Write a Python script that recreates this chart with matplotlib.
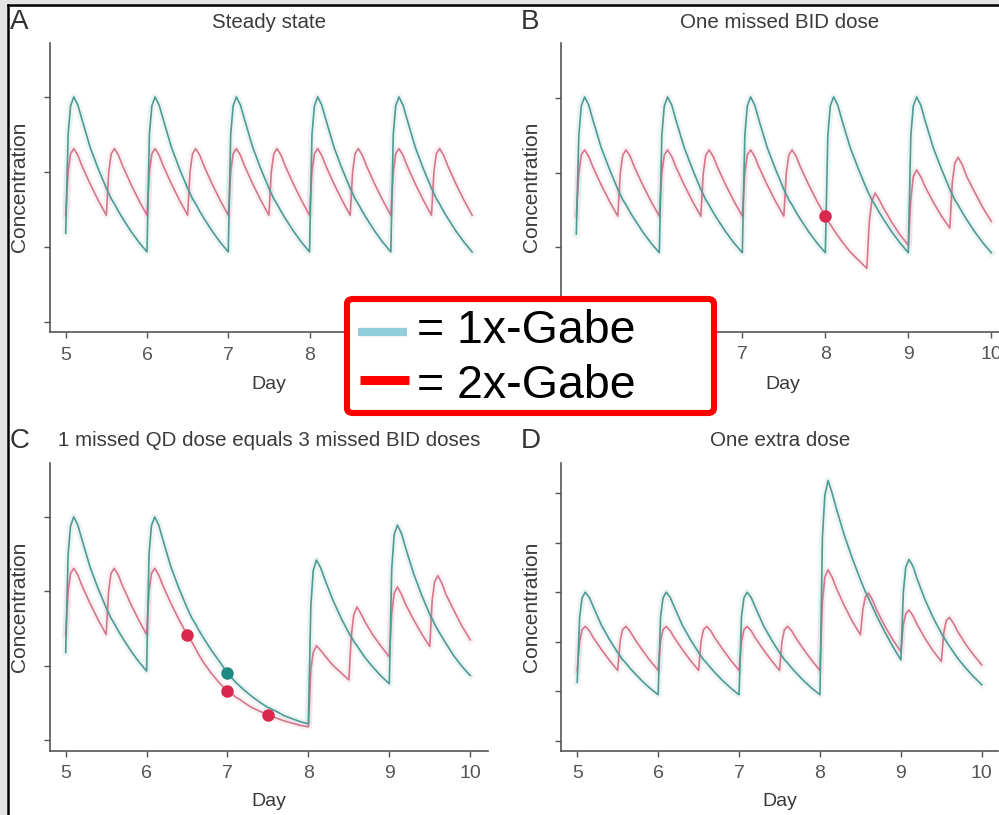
import matplotlib
matplotlib.use("Agg")
import matplotlib.pyplot as plt
from matplotlib.patches import FancyBboxPatch, Rectangle
from matplotlib.lines import Line2D

plt.rcParams['font.family'] = ['Liberation Sans', 'DejaVu Sans']

# ---------------- data ----------------
DAY = [5.0, 5.03, 5.06, 5.1, 5.15, 5.2, 5.3, 5.4, 5.5, 5.53, 5.56, 5.6, 5.65, 5.7, 5.8, 5.9,
       6.0, 6.03, 6.06, 6.1, 6.15, 6.2, 6.3, 6.4, 6.5, 6.53, 6.56, 6.6, 6.65, 6.7, 6.8, 6.9,
       7.0, 7.03, 7.06, 7.1, 7.15, 7.2, 7.3, 7.4, 7.5, 7.53, 7.56, 7.6, 7.65, 7.7, 7.8, 7.9,
       8.0, 8.03, 8.06, 8.1, 8.15, 8.2, 8.3, 8.4, 8.5, 8.53, 8.56, 8.6, 8.65, 8.7, 8.8, 8.9,
       9.0, 9.03, 9.06, 9.1, 9.15, 9.2, 9.3, 9.4, 9.5, 9.53, 9.56, 9.6, 9.65, 9.7, 9.8, 9.9,
       10.0]

A_qd = [1.18, 2.5, 2.88, 3.0, 2.89, 2.70, 2.33, 2.04, 1.78, 1.71, 1.64, 1.57, 1.47, 1.38, 1.21, 1.06,
        0.93, 2.5, 2.88, 3.0, 2.89, 2.70, 2.33, 2.04, 1.78, 1.71, 1.64, 1.57, 1.47, 1.38, 1.21, 1.06,
        0.93, 2.5, 2.88, 3.0, 2.89, 2.70, 2.33, 2.04, 1.78, 1.71, 1.64, 1.57, 1.47, 1.38, 1.21, 1.06,
        0.93, 2.5, 2.88, 3.0, 2.89, 2.70, 2.33, 2.04, 1.78, 1.71, 1.64, 1.57, 1.47, 1.38, 1.21, 1.06,
        0.93, 2.5, 2.88, 3.0, 2.89, 2.70, 2.33, 2.04, 1.78, 1.71, 1.64, 1.57, 1.47, 1.38, 1.21, 1.06,
        0.93]
A_bid = [1.42, 2.0, 2.24, 2.31, 2.22, 2.08, 1.84, 1.62, 1.42, 2.0, 2.24, 2.31, 2.22, 2.08, 1.84, 1.62,
         1.42, 2.0, 2.24, 2.31, 2.22, 2.08, 1.84, 1.62, 1.42, 2.0, 2.24, 2.31, 2.22, 2.08, 1.84, 1.62,
         1.42, 2.0, 2.24, 2.31, 2.22, 2.08, 1.84, 1.62, 1.42, 2.0, 2.24, 2.31, 2.22, 2.08, 1.84, 1.62,
         1.42, 2.0, 2.24, 2.31, 2.22, 2.08, 1.84, 1.62, 1.42, 2.0, 2.24, 2.31, 2.22, 2.08, 1.84, 1.62,
         1.42, 2.0, 2.24, 2.31, 2.22, 2.08, 1.84, 1.62, 1.42, 2.0, 2.24, 2.31, 2.22, 2.08, 1.84, 1.62,
         1.42]

B_qd = [1.18, 2.5, 2.9, 3.02, 2.91, 2.71, 2.34, 2.05, 1.78, 1.71, 1.64, 1.57, 1.47, 1.38, 1.21, 1.06,
        0.93, 2.5, 2.9, 3.02, 2.91, 2.71, 2.34, 2.05, 1.78, 1.71, 1.64, 1.57, 1.47, 1.38, 1.21, 1.06,
        0.93, 2.5, 2.9, 3.02, 2.91, 2.71, 2.34, 2.05, 1.78, 1.71, 1.64, 1.57, 1.47, 1.38, 1.21, 1.06,
        0.93, 2.5, 2.9, 3.02, 2.91, 2.71, 2.34, 2.05, 1.78, 1.71, 1.64, 1.57, 1.47, 1.38, 1.21, 1.06,
        0.93, 2.5, 2.9, 3.02, 2.91, 2.71, 2.34, 2.05, 1.78, 1.71, 1.64, 1.57, 1.47, 1.38, 1.21, 1.06,
        0.93]
B_bid = [1.42, 2.0, 2.24, 2.31, 2.22, 2.08, 1.84, 1.62, 1.42, 2.0, 2.24, 2.31, 2.22, 2.08, 1.84, 1.62,
         1.42, 2.0, 2.24, 2.31, 2.22, 2.08, 1.84, 1.62, 1.42, 2.0, 2.24, 2.31, 2.22, 2.08, 1.84, 1.62,
         1.42, 2.0, 2.24, 2.31, 2.22, 2.08, 1.84, 1.62, 1.42, 2.0, 2.24, 2.31, 2.22, 2.08, 1.84, 1.62,
         1.42, 1.36, 1.31, 1.24, 1.16, 1.08, 0.94, 0.83, 0.72, 1.35, 1.62, 1.73, 1.64, 1.53, 1.34, 1.17,
         1.03, 1.65, 1.95, 2.04, 1.95, 1.82, 1.61, 1.42, 1.26, 1.88, 2.13, 2.21, 2.11, 1.96, 1.74, 1.53,
         1.35]

C_qd = [1.18, 2.5, 2.88, 3.0, 2.89, 2.70, 2.33, 2.04, 1.78, 1.71, 1.64, 1.57, 1.47, 1.38, 1.21, 1.06,
        0.93, 2.5, 2.88, 3.0, 2.89, 2.70, 2.33, 2.04, 1.78, 1.71, 1.64, 1.57, 1.47, 1.38, 1.21, 1.06,
        0.90, 0.86, 0.83, 0.78, 0.73, 0.68, 0.59, 0.51, 0.44, 0.43, 0.41, 0.39, 0.36, 0.33, 0.29, 0.25,
        0.22, 1.8, 2.28, 2.42, 2.32, 2.17, 1.89, 1.65, 1.44, 1.39, 1.33, 1.27, 1.19, 1.11, 0.98, 0.86,
        0.76, 2.3, 2.76, 2.89, 2.78, 2.59, 2.24, 1.95, 1.69, 1.63, 1.56, 1.48, 1.39, 1.30, 1.13, 0.99,
        0.87]
C_bid = [1.42, 2.0, 2.24, 2.31, 2.22, 2.08, 1.84, 1.62, 1.42, 2.0, 2.24, 2.31, 2.22, 2.08, 1.84, 1.62,
         1.42, 2.0, 2.24, 2.31, 2.22, 2.08, 1.84, 1.62, 1.42, 1.37, 1.32, 1.24, 1.14, 1.05, 0.90, 0.77,
         0.66, 0.64, 0.62, 0.58, 0.55, 0.51, 0.44, 0.39, 0.34, 0.33, 0.32, 0.30, 0.28, 0.26, 0.23, 0.20,
         0.18, 0.95, 1.18, 1.27, 1.21, 1.14, 1.01, 0.91, 0.81, 1.4, 1.68, 1.79, 1.70, 1.59, 1.41, 1.26,
         1.12, 1.7, 1.97, 2.06, 1.96, 1.83, 1.62, 1.43, 1.26, 1.88, 2.13, 2.21, 2.11, 1.96, 1.74, 1.53,
         1.35]

D_qd = [1.18, 2.5, 2.88, 3.0, 2.89, 2.70, 2.33, 2.04, 1.78, 1.71, 1.64, 1.57, 1.47, 1.38, 1.21, 1.06,
        0.93, 2.5, 2.88, 3.0, 2.89, 2.70, 2.33, 2.04, 1.78, 1.71, 1.64, 1.57, 1.47, 1.38, 1.21, 1.06,
        0.93, 2.5, 2.88, 3.0, 2.89, 2.70, 2.33, 2.04, 1.78, 1.71, 1.64, 1.57, 1.47, 1.38, 1.21, 1.06,
        0.93, 4.1, 4.95, 5.25, 5.0, 4.7, 4.15, 3.68, 3.25, 3.13, 3.01, 2.88, 2.70, 2.52, 2.2, 1.9,
        1.63, 3.0, 3.5, 3.66, 3.52, 3.27, 2.84, 2.48, 2.17, 2.09, 2.01, 1.91, 1.79, 1.67, 1.47, 1.29,
        1.13]
D_bid = [1.42, 2.0, 2.24, 2.31, 2.22, 2.08, 1.84, 1.62, 1.42, 2.0, 2.24, 2.31, 2.22, 2.08, 1.84, 1.62,
         1.42, 2.0, 2.24, 2.31, 2.22, 2.08, 1.84, 1.62, 1.42, 2.0, 2.24, 2.31, 2.22, 2.08, 1.84, 1.62,
         1.42, 2.0, 2.24, 2.31, 2.22, 2.08, 1.84, 1.62, 1.42, 2.0, 2.24, 2.31, 2.22, 2.08, 1.84, 1.62,
         1.42, 2.8, 3.3, 3.45, 3.30, 3.09, 2.73, 2.41, 2.14, 2.65, 2.9, 2.98, 2.84, 2.64, 2.32, 2.04,
         1.80, 2.35, 2.56, 2.64, 2.52, 2.35, 2.06, 1.81, 1.60, 2.18, 2.42, 2.49, 2.37, 2.21, 1.95, 1.73,
         1.53]

# missed-dose markers
B_miss_bid_x = [8.0]
B_miss_bid_y = [1.42]
C_miss_bid_x = [6.5, 7.0, 7.5]
C_miss_bid_y = [1.42, 0.66, 0.34]
C_miss_qd_x = [7.0]
C_miss_qd_y = [0.90]

X_TICKS = [5, 6, 7, 8, 9, 10]
TITLES = ["Steady state", "One missed BID dose",
          "1 missed QD dose equals 3 missed BID doses", "One extra dose"]
LETTERS = ["A", "B", "C", "D"]
LEGEND_LABELS = ["= 1x-Gabe", "= 2x-Gabe"]

# ---------------- styling ----------------
W, H = 999, 815
TEAL = "#4E9A94"
PINK = "#D6768D"
AXC = "#555555"
TXT = "#3a3a3a"

fig = plt.figure(figsize=(W / 100, H / 100), dpi=100)
fig.patch.set_facecolor("white")


def fx(x):
    return x / W


def fy(y):
    return 1 - y / H


def add_ax(x0, x1, ytop, ybot):
    return fig.add_axes([fx(x0), fy(ybot), (x1 - x0) / W, (ybot - ytop) / H])


panels = [
    # x0, x1, ytop, ybot, ylim, yticks
    (50, 490, 43, 332, (-0.14, 3.72), [0, 1, 2, 3]),
    (560.7, 1009.6, 43.3, 331.7, (-0.13, 3.74), [0, 1, 2, 3]),
    (50, 488, 463.3, 750.7, (-0.14, 3.72), [0, 1, 2, 3]),
    (560.7, 998, 463.3, 750.7, (-0.2, 5.6), [0, 1, 2, 3, 4, 5]),
]
xlims = [(4.807, 10.22), (4.812, 10.22), (4.806, 10.22), (4.796, 10.2)]
series = [(A_qd, A_bid), (B_qd, B_bid), (C_qd, C_bid), (D_qd, D_bid)]

axes = []
for i, (x0, x1, yt, yb, yl, yt_ticks) in enumerate(panels):
    ax = add_ax(x0, x1, yt, yb)
    ax.set_xlim(*xlims[i])
    ax.set_ylim(*yl)
    qd, bid = series[i]
    # soft halo like the blurred original
    ax.plot(DAY, qd, color=TEAL, lw=5, alpha=0.10, solid_joinstyle="round")
    ax.plot(DAY, bid, color=PINK, lw=5, alpha=0.10, solid_joinstyle="round")
    ax.plot(DAY, bid, color=PINK, lw=1.2, solid_joinstyle="round")
    ax.plot(DAY, qd, color=TEAL, lw=1.2, solid_joinstyle="round")
    for s in ["top", "right"]:
        ax.spines[s].set_visible(False)
    for s in ["left", "bottom"]:
        ax.spines[s].set_color(AXC)
        ax.spines[s].set_linewidth(1.2)
    ax.set_xticks(X_TICKS)
    ax.set_xticklabels([str(t) for t in X_TICKS])
    ax.set_yticks(yt_ticks)
    ax.set_yticklabels([])
    ax.tick_params(axis="both", direction="out", length=4.5, width=1.0,
                   color=AXC, labelcolor="#555555", labelsize=14, pad=6)
    ax.patch.set_alpha(0)
    axes.append(ax)

# markers
axes[1].plot(B_miss_bid_x, B_miss_bid_y, "o", color="#D9274E", ms=9, mec="none", zorder=5)
axes[2].plot(C_miss_bid_x, C_miss_bid_y, "o", color="#D9274E", ms=9, mec="none", zorder=5)
axes[2].plot(C_miss_qd_x, C_miss_qd_y, "o", color="#1E8A84", ms=9, mec="none", zorder=5)

# titles, letters, labels
title_pos = [(269, 22), (780, 22), (269, 441), (780, 441)]
letter_pos = [(10, 22), (521, 22), (10, 441), (521, 441)]
day_pos = [(269, 385), (783, 385), (269, 802), (780, 802)]
conc_pos = [(20, 187), (532, 187), (20, 607), (532, 607)]
for i in range(4):
    fig.text(fx(title_pos[i][0]), fy(title_pos[i][1]), TITLES[i], ha="center",
             va="center", fontsize=14.8, color=TXT)
    fig.text(fx(letter_pos[i][0]), fy(letter_pos[i][1]), LETTERS[i], ha="left",
             va="center", fontsize=20, color="#333333")
    fig.text(fx(day_pos[i][0]), fy(day_pos[i][1]), "Day", ha="center",
             va="center", fontsize=14, color=TXT)
    fig.text(fx(conc_pos[i][0]), fy(conc_pos[i][1]), "Concentration", ha="center",
             va="center", rotation=90, fontsize=15, color=TXT)

# screenshot frame (top / left)
fig.add_artist(Rectangle((0, fy(4)), 1, 4 / H, transform=fig.transFigure,
                         facecolor="#e4e4e4", edgecolor="none", zorder=20))
fig.add_artist(Rectangle((0, 0), fx(7), 1, transform=fig.transFigure,
                         facecolor="#e4e4e4", edgecolor="none", zorder=20))
fig.add_artist(Line2D([fx(8), 1], [fy(5), fy(5)], transform=fig.transFigure,
                      color="black", lw=1.8, zorder=21))
fig.add_artist(Line2D([fx(8), fx(8)], [0, fy(5)], transform=fig.transFigure,
                      color="black", lw=1.8, zorder=21))

# legend box
box = FancyBboxPatch((fx(347), fy(413)), (714 - 347) / W, (413 - 299) / H,
                     boxstyle="round,pad=0,rounding_size=0.006",
                     transform=fig.transFigure, facecolor="white",
                     edgecolor="#FF0000", lw=4.4, zorder=30)
fig.add_artist(box)
fig.add_artist(Line2D([fx(358), fx(407)], [fy(332), fy(332)], transform=fig.transFigure,
                      color="#92CDDC", lw=6, solid_capstyle="butt", zorder=31))
fig.add_artist(Line2D([fx(360), fx(409)], [fy(380), fy(380)], transform=fig.transFigure,
                      color="#FF0000", lw=6.5, solid_capstyle="butt", zorder=31))
fig.text(fx(417), fy(331), LEGEND_LABELS[0], ha="left", va="center",
         fontsize=33.5, color="black", zorder=32)
fig.text(fx(417), fy(386), LEGEND_LABELS[1], ha="left", va="center",
         fontsize=33.5, color="black", zorder=32)

fig.savefig("out.png", dpi=100)
